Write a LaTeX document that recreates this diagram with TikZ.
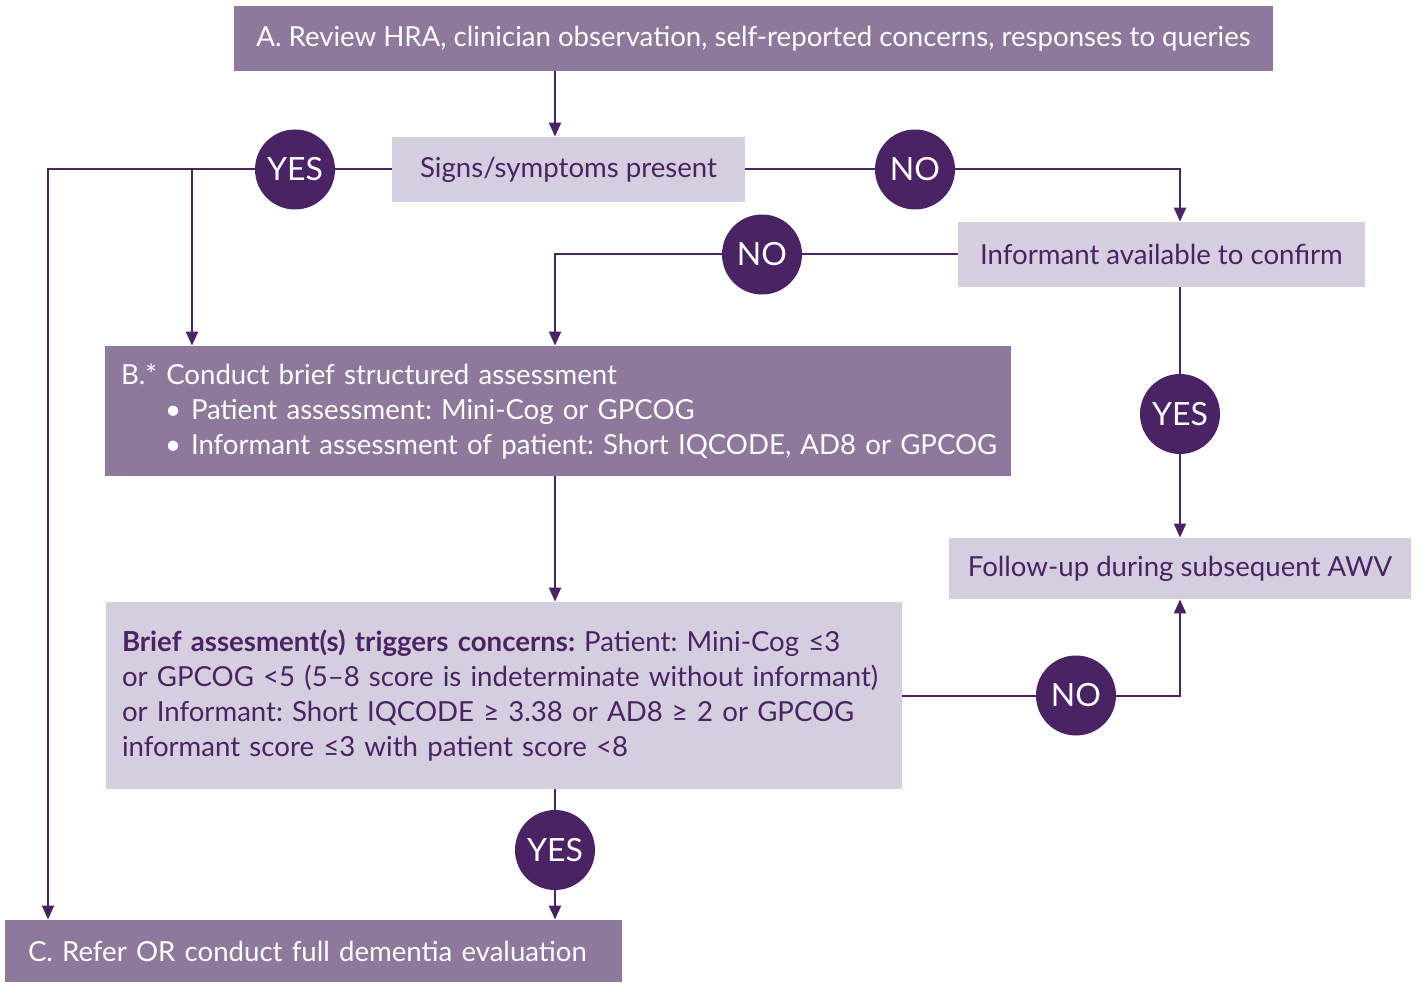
\documentclass[tikz,border=0pt]{standalone}
\usepackage{fontspec}
\setmainfont{Lato}
\usetikzlibrary{arrows.meta,positioning}

\definecolor{plum}{HTML}{4A2364}
\definecolor{mauve}{HTML}{8E799C}
\definecolor{lilac}{HTML}{D5CEDF}

\begin{document}
\begin{tikzpicture}[x=0.5pt,y=-0.5pt,
		darkbox/.style={fill=mauve, text=white, inner sep=0pt, minimum height=32.5pt},
		lightbox/.style={fill=lilac, text=plum, inner sep=0pt, minimum height=32.5pt},
		answer/.style={circle, fill=plum, text=white, inner sep=0pt, minimum size=40pt, font=\fontsize{16}{18}\selectfont},
		link/.style={draw=plum, line width=1pt},
		flow/.style={link, -{Triangle[length=7pt,width=6pt]}}]
	\useasboundingbox (0,0) rectangle (1419,983);
	\fontsize{13.8}{17.5}\selectfont\frenchspacing
	% boxes
	\node (review) at (753.5,38.5) [darkbox, minimum width=519.5pt] {A. Review HRA, clinician observation, self-reported concerns, responses to queries};
	\node (signs) at (568.5,169.5) [lightbox, minimum width=176.5pt] {Signs/symptoms present};
	\node (informant) at (1161.5,254.5) [lightbox, minimum width=203.5pt] {Informant available to confirm};
	\node (assess) at (558,411) [darkbox, minimum width=453pt, minimum height=65pt, text width=437pt, align=left] {B.* Conduct brief structured assessment\\
		\mbox{\hspace*{22pt}\textbullet\hspace{5pt}Patient assessment: Mini-Cog or GPCOG}\\
		\mbox{\hspace*{22pt}\textbullet\hspace{5pt}Informant assessment of patient: Short IQCODE, AD8 or GPCOG}};
	\node (followup) at (1180,568.5) [lightbox, minimum width=231pt, minimum height=30.5pt] {Follow-up during subsequent AWV};
	\node (brief) at (504,695.5) [lightbox, minimum width=398pt, minimum height=93.5pt, text width=382pt, align=left] {\textbf{Brief assesment(s) triggers concerns:} Patient: Mini-Cog ≤3\\
		or GPCOG <5 (5–8 score is indeterminate without informant)\\
		or Informant: Short IQCODE ≥ 3.38 or AD8 ≥ 2 or GPCOG\\
		informant score ≤3 with patient score <8\\[6pt]};
	\node (refer) at (313.5,951) [darkbox, minimum width=308.5pt, minimum height=31pt, text width=285.5pt, align=left] {C. Refer OR conduct full dementia evaluation};
	% yes / no
	\node (yesA) at (295,169.5) [answer] {YES};
	\node (noA) at (915,169.5) [answer] {NO};
	\node (noB) at (762,254.5) [answer] {NO};
	\node (yesB) at (1180,414) [answer] {YES};
	\node (noC) at (1076,695.5) [answer] {NO};
	\node (yesC) at (555,850) [answer] {YES};
	% rails
	\coordinate (mid) at (555,0);
	\coordinate (right) at (1180,0);
	\coordinate (farleft) at (48,169.5);
	\coordinate (branch) at (192,169.5);
	% connectors
	\draw [flow] (review.south -| mid) -- (signs.north -| mid);
	\draw [link] (signs.west) -- (yesA);
	\draw [flow] (yesA) -- (farleft) -- (refer.north -| farleft);
	\draw [flow] (branch) -- (assess.north -| branch);
	\draw [link] (signs.east) -- (noA);
	\draw [flow] (noA) -- (noA -| right) -- (informant.north -| right);
	\draw [link] (informant.west) -- (noB);
	\draw [flow] (noB) -| (assess.north -| mid);
	\draw [link] (informant.south -| right) -- (yesB);
	\draw [flow] (yesB) -- (followup.north -| right);
	\draw [flow] (assess.south -| mid) -- (brief.north -| mid);
	\draw [link] (brief.east) -- (noC);
	\draw [flow] (noC) -| (followup.south -| right);
	\draw [link] (brief.south -| mid) -- (yesC);
	\draw [flow] (yesC) -- (refer.north -| mid);
\end{tikzpicture}
\end{document}
